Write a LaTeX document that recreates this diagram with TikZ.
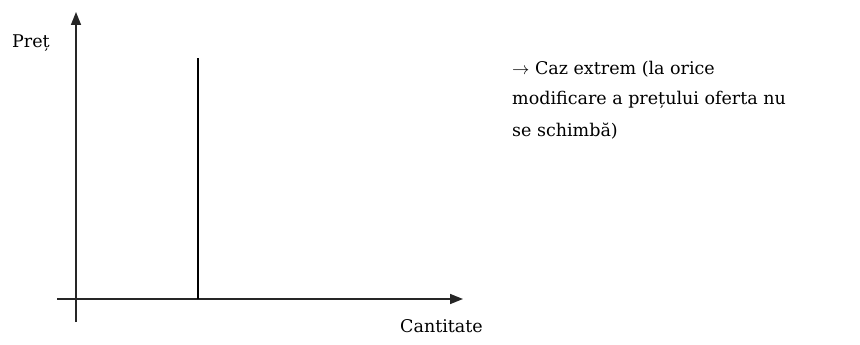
\documentclass[tikz,border=0pt]{standalone}
\usepackage{fontspec}
\setmainfont{DejaVu Serif}
\usetikzlibrary{arrows.meta}
\begin{document}
\begin{tikzpicture}[x=1pt,y=-1pt,
  axis/.style={line width=1.6pt, draw=black!85, -{Triangle[width=10pt,length=13pt]}},
  supply/.style={line width=1.4pt, draw=black},
  lbl/.style={font=\fontsize{17.5}{30}\selectfont, inner sep=0pt, anchor=base west}]
\useasboundingbox (0,0) rectangle (860,345);
% axes
\coordinate (ybot) at (76,322);
\coordinate (ytop) at (76,12);
\coordinate (xl) at (57,299);
\coordinate (xr) at (463,299);
\draw[axis] (ybot) -- (ytop);
\draw[axis] (xl) -- (xr);
% perfectly inelastic supply
\coordinate (qtop) at (198,58);
\coordinate (qbot) at (198,299);
\draw[supply] (qbot) -- (qtop);
% labels
\node[lbl] (pret) at (12,48) {Preț};
\node[lbl] (cant) at (400,332) {Cantitate};
\node[lbl] (l1) at (512,75) {$\rightarrow$ Caz extrem (la orice};
\node[lbl] (l2) at (512,105) {modificare a prețului oferta nu};
\node[lbl] (l3) at (512,136) {se schimbă)};
\end{tikzpicture}
\end{document}
